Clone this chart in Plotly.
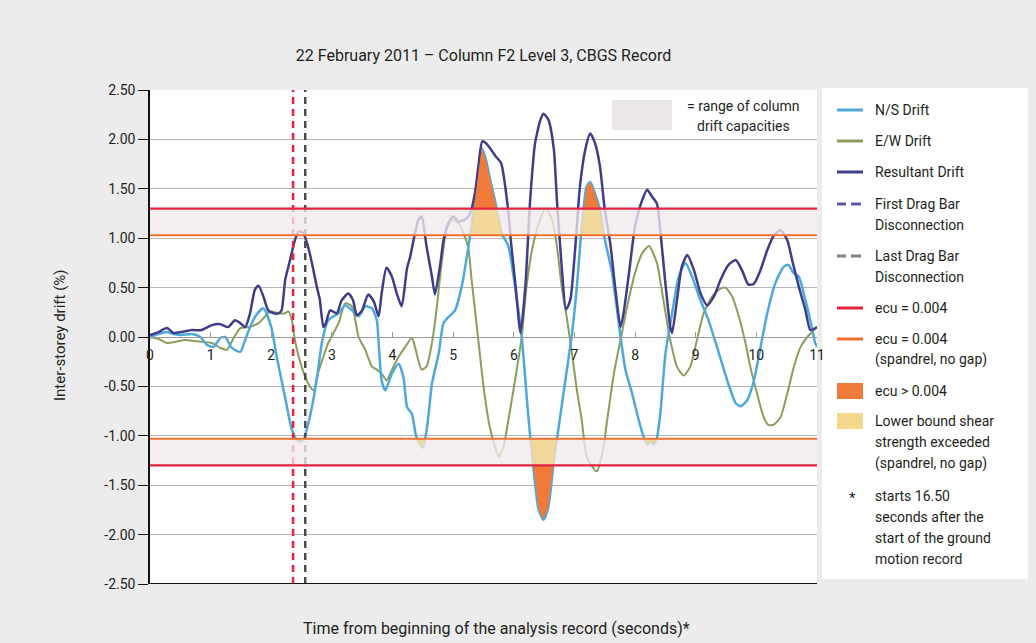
import numpy as np
import plotly.graph_objects as go

# ---------------------------------------------------------------- data
ns_time = [0.00, 0.14, 0.28, 0.39, 0.52, 0.69, 0.83, 0.94, 1.05, 1.16, 1.24, 1.35, 1.49, 1.57,
           1.65, 1.75, 1.87, 2.00, 2.09, 2.17, 2.26, 2.34, 2.42, 2.48, 2.54, 2.60, 2.67, 2.72,
           2.78, 2.83, 2.94, 3.11, 3.22, 3.33, 3.44, 3.55, 3.66, 3.74, 3.78, 3.82, 3.88, 3.99,
           4.10, 4.18, 4.24, 4.32, 4.38, 4.44, 4.50, 4.56, 4.60, 4.65, 4.76, 4.84, 4.92, 5.03,
           5.14, 5.25, 5.33, 5.40, 5.47, 5.53, 5.60, 5.69, 5.75, 5.80, 5.91, 6.02, 6.13, 6.24,
           6.32, 6.41, 6.49, 6.57, 6.65, 6.74, 6.85, 6.96, 7.04, 7.12, 7.20, 7.26, 7.34, 7.42,
           7.50, 7.62, 7.73, 7.84, 7.95, 8.06, 8.14, 8.20, 8.26, 8.31, 8.36, 8.42, 8.50, 8.61,
           8.72, 8.83, 8.94, 9.08, 9.21, 9.35, 9.52, 9.66, 9.74, 9.85, 9.96, 10.07, 10.18,
           10.31, 10.45, 10.53, 10.61, 10.70, 10.81, 10.89, 10.97, 11.00]
ns_drift = [0.00, 0.03, 0.05, 0.03, 0.02, 0.03, 0.00, -0.08, -0.10, -0.01, 0.00, -0.11, -0.15, -0.03,
            0.10, 0.22, 0.29, 0.10, -0.20, -0.44, -0.71, -0.94, -1.04, -1.06, -1.03, -0.90, -0.71, -0.54,
            -0.30, -0.07, 0.17, 0.24, 0.32, 0.27, 0.21, 0.31, 0.29, 0.17, -0.15, -0.44, -0.54, -0.37,
            -0.27, -0.41, -0.71, -0.78, -0.98, -1.08, -1.12, -0.95, -0.75, -0.47, -0.17, 0.14, 0.20, 0.27,
            0.51, 0.91, 1.25, 1.60, 1.91, 1.82, 1.62, 1.38, 1.20, 1.05, 0.92, 0.51, 0.00, -0.81,
            -1.31, -1.75, -1.85, -1.72, -1.31, -0.91, -0.44, 0.04, 0.51, 1.12, 1.52, 1.57, 1.45, 1.29,
            0.99, 0.65, 0.14, -0.33, -0.57, -0.84, -1.01, -1.09, -1.06, -1.09, -1.02, -0.75, -0.17, 0.24,
            0.61, 0.75, 0.61, 0.37, 0.17, -0.10, -0.44, -0.67, -0.70, -0.64, -0.44, -0.10, 0.24,
            0.54, 0.71, 0.73, 0.65, 0.61, 0.37, 0.17, -0.06, -0.10]

ew_time = [0.00, 0.14, 0.28, 0.41, 0.58, 0.74, 0.88, 1.02, 1.16, 1.27, 1.38, 1.49, 1.62, 1.79,
           1.90, 1.98, 2.12, 2.23, 2.28, 2.34, 2.39, 2.50, 2.61, 2.70, 2.78, 2.86, 2.94, 3.11,
           3.22, 3.33, 3.44, 3.55, 3.66, 3.74, 3.82, 3.90, 3.99, 4.10, 4.21, 4.32, 4.37, 4.48,
           4.56, 4.65, 4.73, 4.81, 4.89, 4.98, 5.09, 5.17, 5.25, 5.30, 5.40, 5.50, 5.60, 5.69,
           5.75, 5.83, 5.91, 6.02, 6.13, 6.21, 6.30, 6.41, 6.52, 6.63, 6.71, 6.79, 6.88, 6.96,
           7.04, 7.12, 7.20, 7.29, 7.37, 7.46, 7.54, 7.65, 7.76, 7.87, 8.00, 8.12, 8.23, 8.36,
           8.42, 8.50, 8.58, 8.69, 8.80, 8.91, 9.02, 9.13, 9.27, 9.41, 9.49, 9.60, 9.71, 9.82,
           9.90, 10.01, 10.12, 10.20, 10.28, 10.40, 10.51, 10.62, 10.73, 10.84, 10.95, 11.00]
ew_drift = [0.00, -0.02, -0.06, -0.05, -0.03, -0.04, -0.05, -0.06, -0.11, -0.13, -0.01, 0.09, 0.10, 0.14,
            0.21, 0.26, 0.24, 0.24, 0.26, 0.17, -0.03, -0.30, -0.47, -0.54, -0.35, -0.20, -0.06, 0.14,
            0.34, 0.31, 0.00, -0.13, -0.30, -0.33, -0.37, -0.44, -0.33, -0.20, -0.10, -0.01, -0.10, -0.33,
            -0.30, -0.06, 0.30, 0.75, 1.08, 1.19, 1.15, 1.05, 0.90, 0.60, 0.05, -0.50, -0.90, -1.11,
            -1.21, -1.11, -0.84, -0.44, 0.00, 0.51, 0.88, 1.15, 1.30, 1.19, 0.92, 0.51, 0.17, -0.17,
            -0.54, -0.84, -1.21, -1.31, -1.36, -1.18, -0.84, -0.37, -0.03, 0.31, 0.65, 0.85, 0.92, 0.75,
            0.55, 0.25, -0.03, -0.30, -0.39, -0.30, -0.03, 0.24, 0.41, 0.49, 0.50, 0.41, 0.21, -0.06,
            -0.30, -0.57, -0.81, -0.89, -0.89, -0.81, -0.57, -0.30, -0.10, 0.00, 0.07, 0.10]

res_time = [0.00, 0.14, 0.28, 0.39, 0.52, 0.69, 0.85, 1.02, 1.16, 1.29, 1.40, 1.49, 1.57, 1.65,
            1.73, 1.79, 1.87, 1.95, 2.04, 2.12, 2.17, 2.23, 2.31, 2.39, 2.45, 2.53, 2.59, 2.67,
            2.75, 2.80, 2.86, 2.90, 2.97, 3.08, 3.16, 3.27, 3.35, 3.41, 3.49, 3.60, 3.69, 3.77,
            3.82, 3.90, 3.99, 4.07, 4.15, 4.24, 4.29, 4.37, 4.43, 4.48, 4.56, 4.65, 4.70, 4.79,
            4.84, 4.92, 5.00, 5.09, 5.20, 5.28, 5.36, 5.42, 5.48, 5.56, 5.62, 5.70, 5.79, 5.90,
            5.95, 6.03, 6.11, 6.19, 6.27, 6.35, 6.44, 6.49, 6.57, 6.66, 6.71, 6.79, 6.86, 6.93,
            7.01, 7.09, 7.18, 7.26, 7.34, 7.42, 7.50, 7.59, 7.67, 7.76, 7.81, 7.90, 8.00, 8.12,
            8.20, 8.28, 8.36, 8.42, 8.50, 8.58, 8.61, 8.69, 8.77, 8.86, 8.97, 9.08, 9.19, 9.30,
            9.41, 9.54, 9.66, 9.76, 9.87, 9.96, 10.07, 10.18, 10.29, 10.40, 10.51, 10.59, 10.70,
            10.81, 10.89, 11.00]
res_drift = [0.02, 0.05, 0.09, 0.04, 0.05, 0.07, 0.07, 0.12, 0.13, 0.10, 0.17, 0.14, 0.10, 0.24,
             0.48, 0.52, 0.41, 0.27, 0.24, 0.24, 0.27, 0.58, 0.78, 0.98, 1.07, 1.05, 0.95, 0.75,
             0.51, 0.38, 0.10, 0.14, 0.27, 0.24, 0.37, 0.44, 0.37, 0.22, 0.26, 0.43, 0.36, 0.21,
             0.44, 0.70, 0.61, 0.44, 0.31, 0.70, 0.81, 1.05, 1.19, 1.22, 0.92, 0.61, 0.43, 0.75,
             0.98, 1.15, 1.22, 1.17, 1.19, 1.25, 1.46, 1.75, 1.98, 1.95, 1.90, 1.83, 1.76, 1.32,
             0.98, 0.51, 0.04, 0.51, 1.39, 1.96, 2.20, 2.26, 2.20, 1.90, 1.39, 0.71, 0.28, 0.37,
             0.88, 1.52, 1.90, 2.06, 1.96, 1.73, 1.29, 0.95, 0.51, 0.10, 0.24, 0.65, 1.12, 1.39,
             1.49, 1.42, 1.35, 1.05, 0.54, 0.10, 0.04, 0.37, 0.71, 0.83, 0.68, 0.44, 0.32, 0.41,
             0.58, 0.73, 0.78, 0.68, 0.53, 0.54, 0.68, 0.88, 1.03, 1.08, 0.98, 0.78, 0.51,
             0.27, 0.07, 0.10]

ecu_limit = 1.30          # ecu = 0.004
ecu_spandrel = 1.03       # ecu = 0.004 (spandrel, no gap)
first_disconnection = 2.36
last_disconnection = 2.56

x_ticks = list(range(12))
x_tick_labels = [str(v) for v in x_ticks]
y_ticks = [-2.5, -2.0, -1.5, -1.0, -0.5, 0.0, 0.5, 1.0, 1.5, 2.0, 2.5]
y_tick_labels = ["-2.50", "-2.00", "-1.50", "-1.00", "-0.50", "0.00",
                 "0.50", "1.00", "1.50", "2.00", "2.50"]

legend_labels = [
    ["N/S Drift"],
    ["E/W Drift"],
    ["Resultant Drift"],
    ["First Drag Bar", "Disconnection"],
    ["Last Drag Bar", "Disconnection"],
    ["ecu = 0.004"],
    ["ecu = 0.004", "(spandrel, no gap)"],
    ["ecu > 0.004"],
    ["Lower bound shear", "strength exceeded", "(spandrel, no gap)"],
    ["starts 16.50", "seconds after the", "start of the ground", "motion record"],
]

# ---------------------------------------------------------------- styles
C_NS = "#4da9dc"
C_EW = "#8b9d5c"
C_RES = "#3f3d88"
C_RED = "#e6233f"
C_ORANGE = "#f0702c"
C_FILL_ORANGE = "#f07a3a"
C_FILL_YELLOW = "rgba(242,208,125,0.75)"
C_BAND = "rgba(241,233,237,0.78)"
FONT = "Roboto, 'Open Sans', sans-serif"
TXT = "#231f20"
SMOOTH = 0.6

W, H = 1036, 643
L, R, T, B = 150, 219, 90, 59
PW, PH = W - L - R, H - T - B


def xp(px):
    return (px - L) / PW


def yp(py):
    return (H - B - py) / PH


def exceed_region(t, v, lo, hi, sign):
    """Polygons between the level lo and the curve (capped at hi) where |v| exceeds lo."""
    t = np.asarray(t, float)
    s = sign * np.asarray(v, float)
    rt, rs = [t[0]], [s[0]]
    for i in range(len(t) - 1):
        t0, t1, s0, s1 = t[i], t[i + 1], s[i], s[i + 1]
        levels = [lv for lv in (lo, hi) if min(s0, s1) < lv < max(s0, s1)]
        levels.sort(reverse=s1 < s0)
        for lv in levels:
            f = (lv - s0) / (s1 - s0)
            rt.append(t0 + f * (t1 - t0))
            rs.append(lv)
        rt.append(t1)
        rs.append(s1)
    rt, rs = np.array(rt), np.array(rs)
    inside = rs >= lo - 1e-9
    xs, ys = [], []
    i, n = 0, len(rt)
    while i < n:
        if inside[i]:
            j = i
            while j + 1 < n and inside[j + 1]:
                j += 1
            if j > i:
                seg_t = rt[i:j + 1]
                seg_s = np.minimum(rs[i:j + 1], hi)
                xs += list(seg_t) + list(seg_t[::-1]) + [None]
                ys += list(sign * seg_s) + [sign * lo] * (j - i + 1) + [None]
            i = j + 1
        else:
            i += 1
    return xs, ys


fig = go.Figure()

# drift histories
fig.add_trace(go.Scatter(x=ew_time, y=ew_drift, mode="lines",
                         line=dict(color=C_EW, width=2, shape="spline", smoothing=SMOOTH),
                         name="E/W Drift"))
fig.add_trace(go.Scatter(x=ns_time, y=ns_drift, mode="lines",
                         line=dict(color=C_NS, width=2.5, shape="spline", smoothing=SMOOTH),
                         name="N/S Drift"))
fig.add_trace(go.Scatter(x=res_time, y=res_drift, mode="lines",
                         line=dict(color=C_RES, width=2.5, shape="spline", smoothing=SMOOTH),
                         name="Resultant Drift"))

# drag bar disconnection times
fig.add_trace(go.Scatter(x=[first_disconnection, first_disconnection], y=[-2.5, 2.5], mode="lines",
                         line=dict(color=C_RED, width=2.5, dash="7px,5px"),
                         name="First Drag Bar Disconnection"))
fig.add_trace(go.Scatter(x=[last_disconnection, last_disconnection], y=[-2.5, 2.5], mode="lines",
                         line=dict(color="#4a4a4a", width=2.5, dash="7px,5px"),
                         name="Last Drag Bar Disconnection"))

# range of column drift capacities
band_x, band_y = [], []
for sgn in (1, -1):
    band_x += [0, 11, 11, 0, 0, None]
    band_y += [sgn * ecu_spandrel, sgn * ecu_spandrel, sgn * ecu_limit, sgn * ecu_limit,
               sgn * ecu_spandrel, None]
fig.add_trace(go.Scatter(x=band_x, y=band_y, mode="lines", fill="toself",
                         fillcolor=C_BAND, line=dict(width=0), name="range of column drift capacities"))

# exceedance fills from the N/S drift
for sgn in (1, -1):
    fx, fy = exceed_region(ns_time, ns_drift, ecu_spandrel, ecu_limit, sgn)
    fig.add_trace(go.Scatter(x=fx, y=fy, mode="lines", fill="toself", fillcolor=C_FILL_YELLOW,
                             line=dict(width=0), name="Lower bound shear strength exceeded"))
    fx, fy = exceed_region(ns_time, ns_drift, ecu_limit, np.inf, sgn)
    fig.add_trace(go.Scatter(x=fx, y=fy, mode="lines", fill="toself", fillcolor=C_FILL_ORANGE,
                             line=dict(width=0), name="ecu > 0.004"))

# strain limit lines
for sgn in (1, -1):
    fig.add_trace(go.Scatter(x=[0, 11], y=[sgn * ecu_limit] * 2, mode="lines",
                             line=dict(color=C_RED, width=2.2), name="ecu = 0.004"))
    fig.add_trace(go.Scatter(x=[0, 11], y=[sgn * ecu_spandrel] * 2, mode="lines",
                             line=dict(color=C_ORANGE, width=2.2),
                             name="ecu = 0.004 (spandrel, no gap)"))

shapes = []
annotations = []

# bottom frame line
shapes.append(dict(type="line", xref="paper", yref="y", x0=0, x1=1, y0=-2.5, y1=-2.5,
                   line=dict(color="#111111", width=2), layer="above"))

# key for the capacity band
shapes.append(dict(type="rect", xref="paper", yref="paper", x0=xp(612), x1=xp(672),
                   y0=yp(130), y1=yp(100), fillcolor="#ebe6e8", line=dict(width=0), layer="above"))
for txt, py in (("= range of column", 106), ("drift capacities", 126)):
    annotations.append(dict(text=txt, xref="paper", yref="paper", x=xp(743), y=yp(py),
                            xanchor="center", yanchor="middle", showarrow=False,
                            font=dict(family=FONT, size=14, color=TXT)))

# legend panel
shapes.append(dict(type="rect", xref="paper", yref="paper", x0=xp(822), x1=xp(1028),
                   y0=yp(579), y1=yp(88), fillcolor="white", line=dict(width=0), layer="below"))

legend_icons = [
    ("line", C_NS), ("line", C_EW), ("line", C_RES), ("dash", "#5b59a3"), ("dash", "#808080"),
    ("line", C_RED), ("line", C_ORANGE), ("rect", C_FILL_ORANGE), ("rect", "#f4d98c"), ("star", TXT),
]
legend_top = [110, 141, 172, 204, 256, 308, 339, 391, 421, 496]
LINE_STEP = 21
for (kind, color), lines, y0 in zip(legend_icons, legend_labels, legend_top):
    if kind == "line":
        shapes.append(dict(type="line", xref="paper", yref="paper", x0=xp(837), x1=xp(863),
                           y0=yp(y0), y1=yp(y0), line=dict(color=color, width=3)))
    elif kind == "dash":
        for a, b in ((837, 846), (851, 861)):
            shapes.append(dict(type="line", xref="paper", yref="paper", x0=xp(a), x1=xp(b),
                               y0=yp(y0), y1=yp(y0), line=dict(color=color, width=3)))
    elif kind == "rect":
        shapes.append(dict(type="rect", xref="paper", yref="paper", x0=xp(837), x1=xp(863),
                           y0=yp(y0 + 8), y1=yp(y0 - 8), fillcolor=color, line=dict(width=0)))
    else:
        annotations.append(dict(text="*", xref="paper", yref="paper", x=xp(852), y=yp(y0 + 2),
                                xanchor="center", yanchor="middle", showarrow=False,
                                font=dict(family=FONT, size=15, color=color)))
    for k, txt in enumerate(lines):
        annotations.append(dict(text=txt, xref="paper", yref="paper", x=xp(873),
                                y=yp(y0 + k * LINE_STEP), xanchor="left", yanchor="middle",
                                showarrow=False, font=dict(family=FONT, size=14, color=TXT)))

# axis titles
annotations.append(dict(text="Inter-storey drift (%)", xref="paper", yref="paper",
                        x=xp(60), y=yp(335), textangle=-90, xanchor="center", yanchor="middle",
                        showarrow=False, font=dict(family=FONT, size=15, color=TXT)))
annotations.append(dict(text="Time from beginning of the analysis record (seconds)*", xref="paper",
                        yref="paper", x=xp(496), y=yp(628), xanchor="center", yanchor="middle",
                        showarrow=False, font=dict(family=FONT, size=16, color=TXT)))

fig.update_layout(
    width=W, height=H,
    margin=dict(l=L, r=R, t=T, b=B),
    paper_bgcolor="#ececec",
    plot_bgcolor="white",
    showlegend=False,
    hovermode=False,
    font=dict(family=FONT, color=TXT),
    title=dict(text="22 February 2011 \u2013 Column F2 Level 3, CBGS Record",
               x=0.5, xref="paper", xanchor="center",
               y=1 - 55 / H, yref="container", yanchor="middle",
               font=dict(family=FONT, size=16, color=TXT)),
    xaxis=dict(range=[0, 11], tickvals=x_ticks, ticktext=x_tick_labels,
               anchor="free", position=0.5, side="bottom",
               showline=True, linecolor="#9a9a9a", linewidth=1,
               ticks="inside", ticklen=5, tickcolor="#9a9a9a", tickwidth=1,
               ticklabelstandoff=5,
               showgrid=False, zeroline=False,
               tickfont=dict(family=FONT, size=14, color=TXT)),
    yaxis=dict(range=[-2.5, 2.5], tickvals=y_ticks, ticktext=y_tick_labels,
               showline=True, linecolor="#111111", linewidth=1.5,
               ticks="outside", ticklen=10, tickcolor="#111111", tickwidth=1.2,
               showgrid=True, gridcolor="#b5b5b5", gridwidth=1, zeroline=False,
               tickfont=dict(family=FONT, size=14, color=TXT)),
    shapes=shapes,
    annotations=annotations,
)

fig.write_html("out.html")
